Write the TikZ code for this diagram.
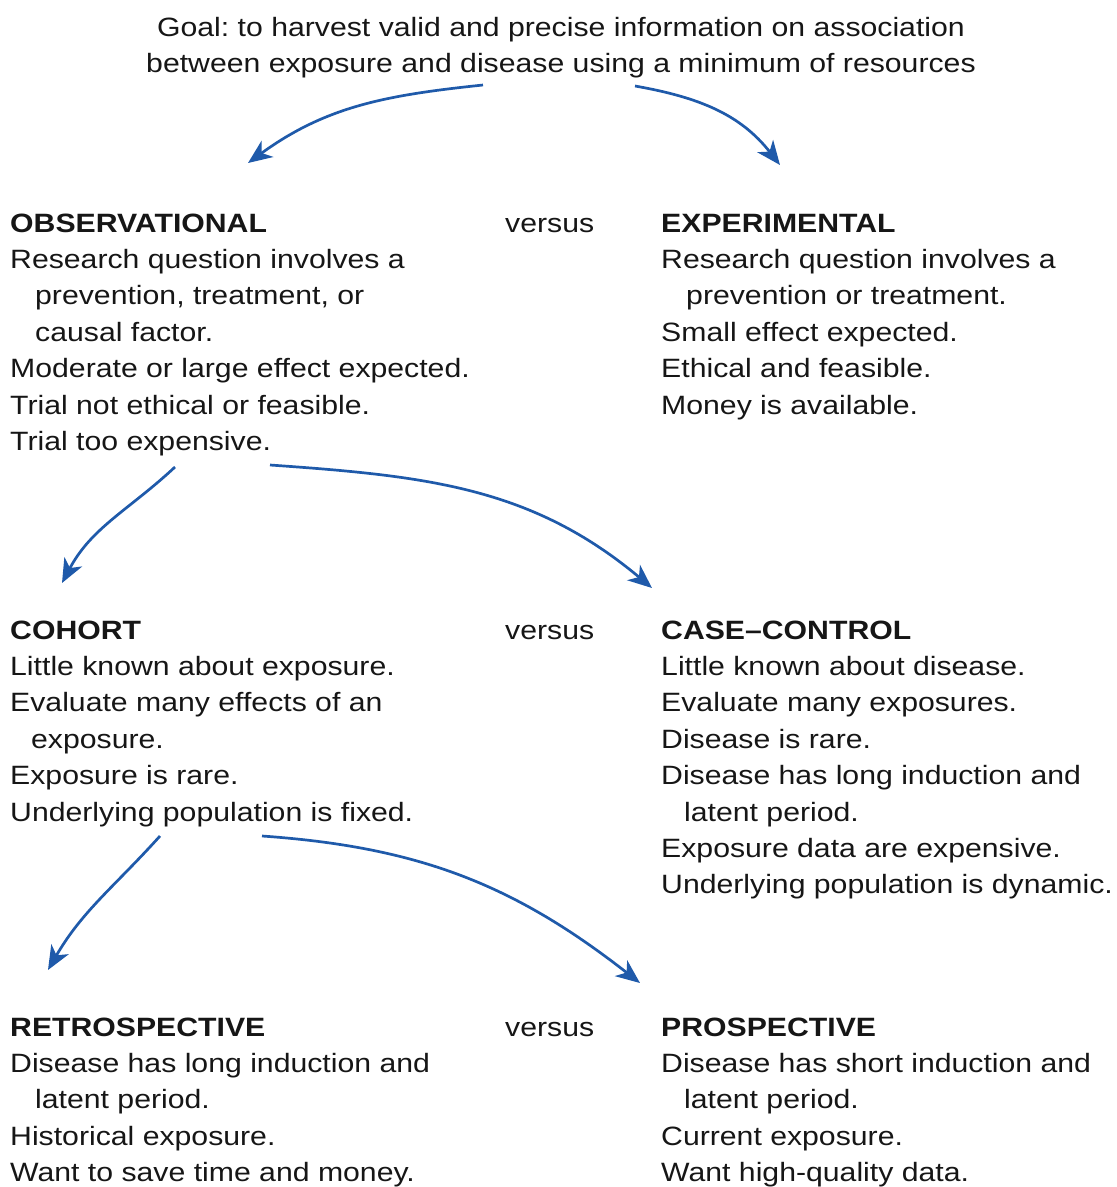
\documentclass[tikz,border=0pt]{standalone}
\usepackage{fontspec}
\setmainfont[FakeStretch=1.14]{Liberation Sans}
\usetikzlibrary{arrows.meta}
\definecolor{arrowblue}{RGB}{31,90,170}
\definecolor{txt}{RGB}{22,22,22}
\frenchspacing
\begin{document}
\begin{tikzpicture}[x=1pt,y=1pt,
  block/.style={anchor=base west, inner sep=0pt, align=left, text=txt,
    font=\fontsize{26.5}{36.4}\selectfont},
  goalbox/.style={anchor=base, inner sep=0pt, align=center, text=txt,
    font=\fontsize{26.5}{36.4}\selectfont},
  arr/.style={draw=arrowblue, line width=2.7pt,
    -{Stealth[length=24pt,width=20pt,inset=7pt]}}]
\useasboundingbox (0,0) rectangle (1117,-1187);
\def\ind{\hspace*{25pt}}
% anchors are at the baseline of the LAST line of each block
\node[goalbox] (goal) at (561,-72.4) {Goal: to harvest valid and precise information on association\\
between exposure and disease using a minimum of resources};

\node[block] (obs) at (10,-450.4) {\textbf{OBSERVATIONAL}\\
Research question involves a\\
\ind prevention, treatment, or\\
\ind causal factor.\\
Moderate or large effect expected.\\
Trial not ethical or feasible.\\
Trial too expensive.};
\node[block] (vs1) at (505,-232) {versus};
\node[block] (exp) at (661,-414) {\textbf{EXPERIMENTAL}\\
Research question involves a\\
\ind prevention or treatment.\\
Small effect expected.\\
Ethical and feasible.\\
Money is available.};

\node[block] (coh) at (10,-821) {\textbf{COHORT}\\
Little known about exposure.\\
Evaluate many effects of an\\
\hspace*{21pt}exposure.\\
Exposure is rare.\\
Underlying population is fixed.};
\node[block] (vs2) at (505,-639) {versus};
\node[block] (cc) at (661,-893.8) {\textbf{CASE–CONTROL}\\
Little known about disease.\\
Evaluate many exposures.\\
Disease is rare.\\
Disease has long induction and\\
\hspace*{23pt}latent period.\\
Exposure data are expensive.\\
Underlying population is dynamic.};

\node[block] (retro) at (10,-1181.6) {\textbf{RETROSPECTIVE}\\
Disease has long induction and\\
\ind latent period.\\
Historical exposure.\\
Want to save time and money.};
\node[block] (vs3) at (505,-1036) {versus};
\node[block] (pro) at (661,-1181.6) {\textbf{PROSPECTIVE}\\
Disease has short induction and\\
\hspace*{23pt}latent period.\\
Current exposure.\\
Want high-quality data.};

\coordinate (g1) at (483,-85);
\coordinate (g2) at (635,-86);
\coordinate (t1) at (248,-163);
\coordinate (t2) at (780,-165);
\coordinate (o1) at (175,-467);
\coordinate (o2) at (270,-465);
\coordinate (t3) at (62,-583);
\coordinate (t4) at (652,-588);
\coordinate (c1) at (160,-836);
\coordinate (c2) at (262,-836);
\coordinate (t5) at (48,-970);
\coordinate (t6) at (640,-983);

\draw[arr] (g1) to[out=186,in=36] (t1);
\draw[arr] (g2) to[out=-10,in=128] (t2);
\draw[arr] (o1) to[out=223,in=62] (t3);
\draw[arr] (o2) to[out=-4,in=140] (t4);
\draw[arr] (c1) to[out=228,in=60] (t5);
\draw[arr] (c2) to[out=-4,in=142] (t6);
\end{tikzpicture}
\end{document}
